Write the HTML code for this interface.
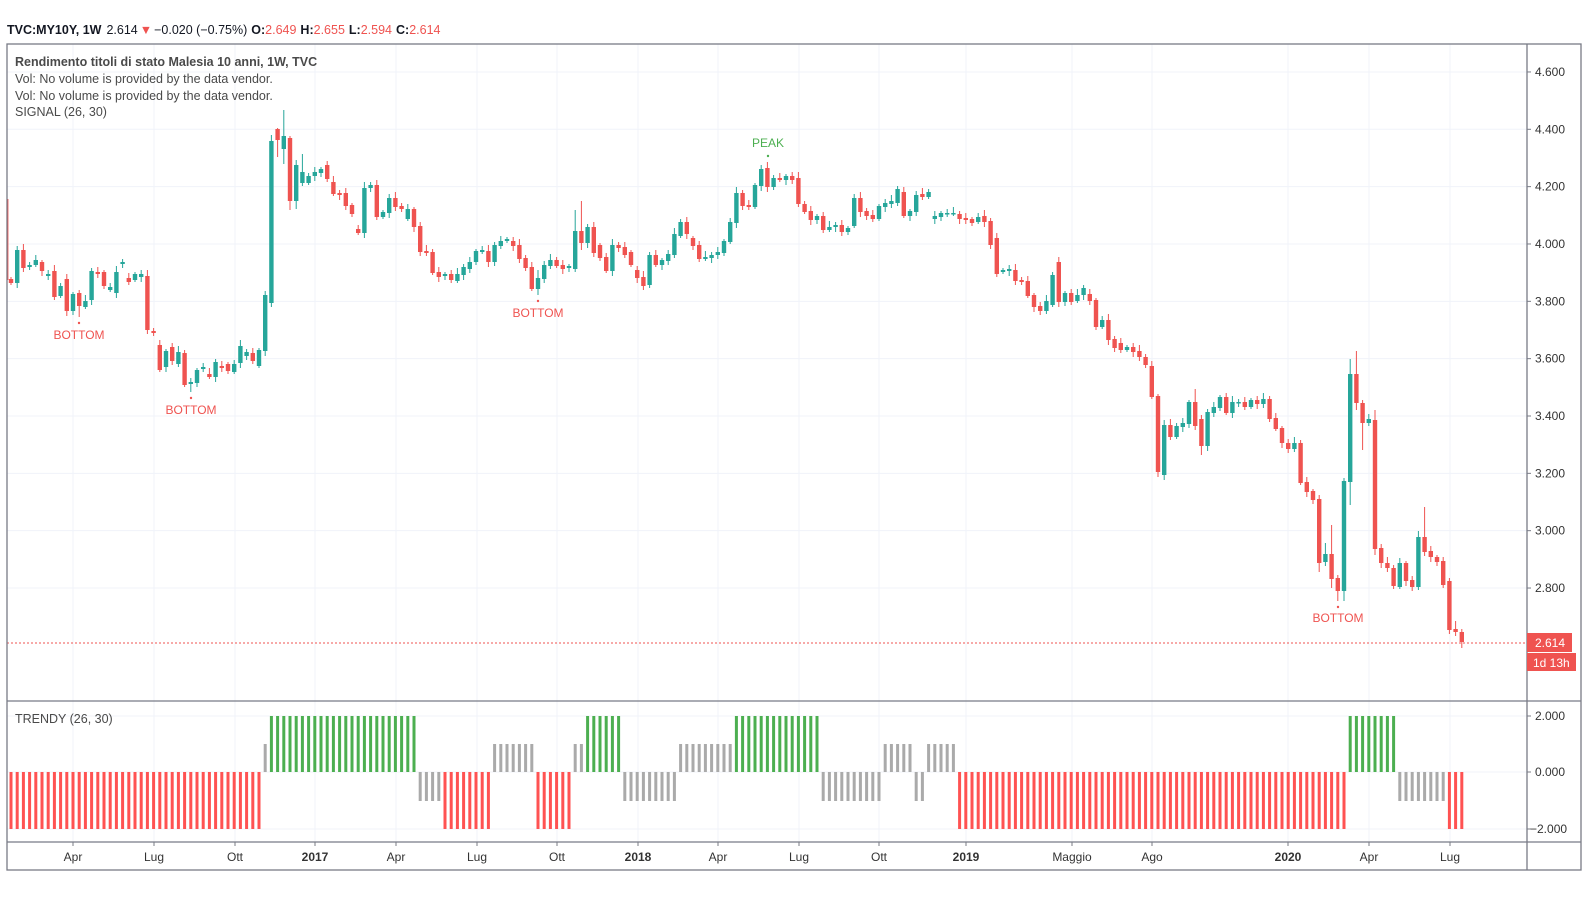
<!DOCTYPE html>
<html><head><meta charset="utf-8"><style>
html,body{margin:0;padding:0;background:#fff;}
svg{display:block;font-family:"Liberation Sans",sans-serif;}
</style></head><body>
<svg id="s" width="1588" height="907" xmlns="http://www.w3.org/2000/svg">
<rect width="1588" height="907" fill="#fff"/>
<g id="grid" stroke="#f0f3fa" stroke-width="1"></g>
<g id="bars"></g>
<g id="candles"></g>
<line x1="7" y1="643" x2="1527" y2="643" stroke="#ef5350" stroke-width="1" stroke-dasharray="2,2"/>
<g fill="none" stroke="#787b86" stroke-width="1.3">
<rect x="7" y="44" width="1574" height="826"/>
<line x1="1527" y1="44" x2="1527" y2="870"/>
<line x1="7" y1="701" x2="1581" y2="701"/>
<line x1="7" y1="842" x2="1581" y2="842"/>
</g>
<g id="axis" font-size="12" fill="#333"></g>
<text x="7" y="34" font-size="12.5" fill="#131722"><tspan font-weight="bold">TVC:MY10Y, 1W</tspan><tspan dx="5">2.614</tspan><tspan fill="#ef5350" dx="2">▼</tspan><tspan dx="2">−0.020 (−0.75%)</tspan><tspan dx="4" font-weight="bold">O:</tspan><tspan fill="#ef5350">2.649</tspan><tspan dx="4" font-weight="bold">H:</tspan><tspan fill="#ef5350">2.655</tspan><tspan dx="4" font-weight="bold">L:</tspan><tspan fill="#ef5350">2.594</tspan><tspan dx="4" font-weight="bold">C:</tspan><tspan fill="#ef5350">2.614</tspan></text>
<g font-size="12.5" fill="#4a4a4a">
<text x="15" y="66" font-weight="bold">Rendimento titoli di stato Malesia 10 anni, 1W, TVC</text>
<text x="15" y="83">Vol: No volume is provided by the data vendor.</text>
<text x="15" y="100">Vol: No volume is provided by the data vendor.</text>
<text x="15" y="116">SIGNAL (26, 30)</text>
<text x="15" y="723">TRENDY (26, 30)</text>
</g>
<g font-size="12" text-anchor="middle">
<text x="79" y="339" fill="#ef5350">BOTTOM</text><circle cx="79" cy="323" r="1.2" fill="#ef5350"/>
<text x="191" y="414" fill="#ef5350">BOTTOM</text><circle cx="191" cy="398" r="1.2" fill="#ef5350"/>
<text x="538" y="317" fill="#ef5350">BOTTOM</text><circle cx="538" cy="301" r="1.2" fill="#ef5350"/>
<text x="768" y="147" fill="#4caf50">PEAK</text><circle cx="768" cy="156" r="1.2" fill="#4caf50"/>
<text x="1338" y="622" fill="#ef5350">BOTTOM</text><circle cx="1338" cy="607" r="1.2" fill="#ef5350"/>
</g>
<rect x="1527" y="633" width="45" height="19" fill="#ef5350"/>
<text x="1535" y="647" font-size="12" fill="#fff">2.614</text>
<rect x="1527" y="653" width="49" height="18" fill="#ef5350"/>
<text x="1533" y="667" font-size="12" fill="#fff">1d 13h</text>
</svg>
<script>
var NS="http://www.w3.org/2000/svg";
function el(p,t,a,txt){var e=document.createElementNS(NS,t);for(var k in a)e.setAttribute(k,a[k]);if(txt!=null)e.textContent=txt;document.getElementById(p).appendChild(e);return e;}
var D="r279,283 g250,283 r250,268 g265,267 g260,265 r262,271 g274,276 r271,297 g286,296 r279,311 g294,311 r293,306 g301,307 g271,300 r272,274 r272,286 g287,290 g272,293 g262,264 r278,282 g274,280 g274,277 r276,330 r331,333 r345,370 g351,367 r347,361 g352,364 r353,385 g382,384 g370,383 g367,369 r374,377 g362,377 r366,368 r364,371 g364,372 g346,363 g352,356 r353,361 g350,366 g295,351 g141,303 r129,140 g136,149 r138,201 g165,201 g172,183 g176,183 g172,176 g169,173 r165,179 r182,194 r193,195 r193,206 r205,214 r229,233 g188,233 g185,188 r185,217 g212,217 g198,213 r198,207 "+
"r206,209 g209,219 r209,227 r226,252 r251,253 r252,273 r272,277 g274,276 r274,280 g274,281 g267,275 g262,269 g251,262 g250,252 r251,262 g245,262 g241,246 g239,241 r241,246 r245,259 r258,268 r267,289 g278,289 g265,279 g260,266 r260,266 r265,269 g266,268 g231,269 r231,243 g227,243 r227,253 r245,258 r257,271 g245,271 r245,248 r247,255 r252,265 r270,278 r277,286 g255,285 r255,265 g260,265 g254,261 g234,255 g222,236 r222,234 r238,246 r245,259 g257,259 g255,258 g252,255 g241,253 g222,242 g193,223 r193,206 r205,207 g185,207 g169,186 r168,187 g178,187 r178,180 g176,180 r176,180 r178,204 "+
"r204,212 r211,220 g216,220 r216,230 g227,230 g225,227 r225,232 g228,232 g198,226 r198,212 r211,216 r215,219 g206,219 g203,207 g201,204 g189,203 r192,216 g211,216 g195,212 r194,197 g192,197 g216,219 g213,217 g213,214 g213,214 r214,219 r218,220 r219,223 g217,222 r216,222 r221,245 r238,274 g270,272 g269,271 r270,281 r280,282 r281,296 r295,307 r306,311 g301,311 g275,305 r262,302 g293,302 r293,302 g295,301 g288,295 r294,301 r300,327 g320,327 r320,340 r339,348 r343,350 g347,350 r347,352 r351,357 r357,365 r366,397 r396,472 "+
"g425,475 r425,437 g426,437 g423,427 g402,424 r402,426 r419,446 g412,446 g407,413 g397,408 r397,413 g402,413 g402,403 r402,407 g400,407 r400,404 g399,404 r399,419 r418,429 r428,443 r443,449 g443,449 r443,483 r482,492 r491,500 r499,563 g554,562 r554,579 r578,591 g481,591 g374,482 r374,403 r403,423 g419,423 r420,549 r548,563 r563,568 r568,586 g563,587 r563,581 r580,587 g537,587 r537,552 r551,557 r557,562 r561,585 r581,630 r629,632 r632,642";
var C=D.split(" ");
var W={11:[290,317],29:[378,392],43:[128,157],44:[110,164],45:[136,210],46:[160,209],47:[154,186],85:[270,295],91:[210,272],92:[201,250],122:[162,192],143:[186,206],186:[420,480],191:[389,430],192:[415,455],211:[495,572],212:[543,566],213:[525,588],214:[575,601],215:[478,601],216:[359,505],217:[351,410],218:[400,450],220:[410,555],228:[507,556],232:[578,634],233:[621,636],234:[629,648]};
var GR="#26a69a",RD="#ef5350";
for(var i=0;i<C.length;i++){
 var c=C[i],col=c[0]=="g"?GR:RD,p=c.slice(1).split(","),t=+p[0],b=+p[1];
 var x=11+i*6.2;
 var v=(i*7)%5;
 var wt=W[i]?W[i][0]:t-2-v, wb=W[i]?W[i][1]:b+2+((i*3)%4);
 el("candles","line",{x1:x,y1:wt,x2:x,y2:wb,stroke:col,"stroke-width":1});
 el("candles","rect",{x:x-2.2,y:t,width:4.4,height:Math.max(1.5,b-t),fill:col});
}
el("candles","line",{x1:7.7,y1:199,x2:7.7,y2:280,stroke:RD,"stroke-width":1.4});
var segs=[[0,40,"r"],[41,41,"p"],[42,65,"g"],[66,69,"m"],[70,77,"r"],[78,84,"p"],[85,90,"r"],[91,92,"p"],[93,98,"g"],[99,107,"m"],[108,116,"p"],[117,130,"g"],[131,140,"m"],[141,145,"p"],[146,147,"m"],[148,152,"p"],[153,215,"r"],[216,223,"g"],[224,231,"m"],[232,234,"r"]];
segs.forEach(function(s){for(var i=s[0];i<=s[1];i++){var x=11+i*6.2-1.5,y,h,f;
 if(s[2]=="r"){y=772;h=57;f="#ff5252";}else if(s[2]=="g"){y=716;h=56;f="#4caf50";}else if(s[2]=="p"){y=744;h=28;f="#aaaaaa";}else{y=772;h=29;f="#aaaaaa";}
 el("bars","rect",{x:x,y:y,width:3,height:h,fill:f});}});
var vx=[[73,"Apr"],[154,"Lug"],[235,"Ott"],[315,"2017"],[396,"Apr"],[477,"Lug"],[557,"Ott"],[638,"2018"],[718,"Apr"],[799,"Lug"],[879,"Ott"],[966,"2019"],[1072,"Maggio"],[1152,"Ago"],[1288,"2020"],[1369,"Apr"],[1450,"Lug"]];
vx.forEach(function(v){el("grid","line",{x1:v[0],y1:44,x2:v[0],y2:842});
 el("axis","line",{x1:v[0],y1:842,x2:v[0],y2:846,stroke:"#787b86"});
 var b=/^20/.test(v[1]);el("axis","text",{x:v[0],y:861,"text-anchor":"middle","font-weight":b?"bold":"normal"},v[1]);});
for(var k=0;k<10;k++){var p=4.6-k*0.2,y=129.3+(4.4-p)*286.7;
 el("grid","line",{x1:7,y1:y,x2:1527,y2:y});
 el("axis","line",{x1:1527,y1:y,x2:1531,y2:y,stroke:"#787b86"});
 el("axis","text",{x:1535,y:y+4},p.toFixed(3));}
[[716,"2.000"],[772,"0.000"],[829,"\u22122.000"]].forEach(function(a){
 el("grid","line",{x1:7,y1:a[0],x2:1527,y2:a[0]});
 el("axis","line",{x1:1527,y1:a[0],x2:1531,y2:a[0],stroke:"#787b86"});
 el("axis","text",{x:a[1].length>5?1530:1535,y:a[0]+4},a[1]);});
</script>
</body></html>
